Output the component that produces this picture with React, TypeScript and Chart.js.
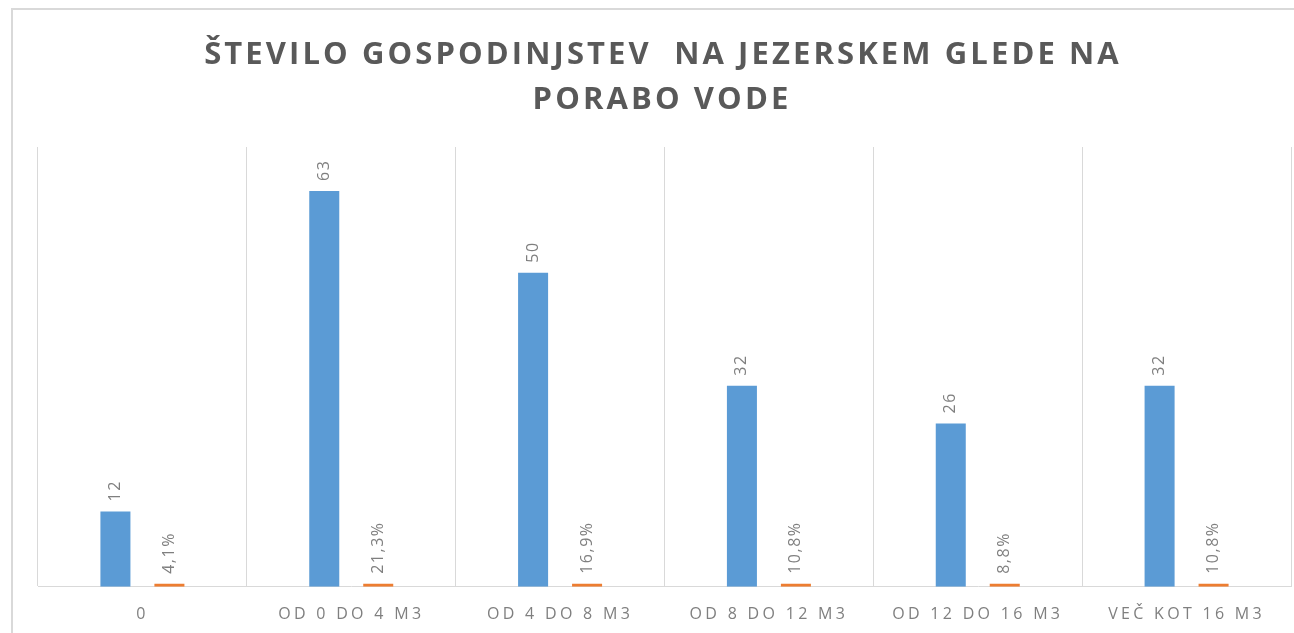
import React, { useEffect, useRef } from "react";
import { Chart, registerables } from "chart.js";

Chart.register(...registerables);

const categories = ["0", "OD 0 DO 4 M3", "OD 4 DO 8 M3", "OD 8 DO 12 M3", "OD 12 DO 16 M3", "VEČ KOT 16 M3"];
const households = [12, 63, 50, 32, 26, 32];
const shares = [0.041, 0.213, 0.169, 0.108, 0.088, 0.108];
const titleLines = ["ŠTEVILO GOSPODINJSTEV  NA JEZERSKEM GLEDE NA", "PORABO VODE"];

const fmtShare = (v: number) => (v * 100).toFixed(1).replace(".", ",") + "%";

const framePlugin = {
  id: "frame",
  beforeDraw(chart: any) {
    const ctx = chart.ctx;
    ctx.save();
    ctx.strokeStyle = "#d9d9d9";
    ctx.lineWidth = 2;
    ctx.beginPath();
    ctx.moveTo(12, 650);
    ctx.lineTo(12, 9);
    ctx.lineTo(1294, 9);
    ctx.stroke();
    ctx.restore();
    (ctx as any).letterSpacing = "3.3px";
  },
  beforeDatasetsDraw(chart: any) {
    (chart.ctx as any).letterSpacing = "0px";
  },
  afterDatasetsDraw(chart: any) {
    const ctx = chart.ctx;
    ctx.save();
    ctx.font = "16px 'Open Sans'";
    (ctx as any).letterSpacing = "1.5px";
    ctx.fillStyle = "#7f7f7f";
    ctx.textBaseline = "middle";
    ctx.textAlign = "left";
    chart.data.datasets.forEach((ds: any, di: number) => {
      const meta = chart.getDatasetMeta(di);
      meta.data.forEach((bar: any, i: number) => {
        const v = ds.data[i];
        const txt = di === 0 ? String(v) : fmtShare(v);
        const top = Math.min(bar.y, bar.base - 3);
        ctx.save();
        ctx.translate(bar.x, top - 10);
        ctx.rotate(-Math.PI / 2);
        ctx.fillText(txt, 0, 0);
        ctx.restore();
      });
    });
    ctx.restore();
  },
  afterDraw(chart: any) {
    const ctx = chart.ctx;
    ctx.save();
    ctx.font = "bold 31px 'Open Sans'";
    (ctx as any).letterSpacing = "3.1px";
    ctx.fillStyle = "#595959";
    ctx.textAlign = "center";
    ctx.textBaseline = "middle";
    ctx.fillText(titleLines[0], 663, 55);
    ctx.fillText(titleLines[1], 662, 100);
    ctx.restore();
  },
};

export default function App() {
  const ref = useRef<HTMLCanvasElement>(null);
  useEffect(() => {
    if (!ref.current) return;
    const chart = new Chart(ref.current, {
      type: "bar",
      data: {
        labels: categories,
        datasets: [
          {
            label: "Število gospodinjstev",
            data: households,
            backgroundColor: "#5b9bd5",
            barPercentage: 0.556,
            categoryPercentage: 0.517,
          },
          {
            label: "Delež",
            data: shares,
            backgroundColor: "#ed7d31",
            barPercentage: 0.556,
            categoryPercentage: 0.517,
            minBarLength: 3,
          },
        ],
      },
      options: {
        responsive: false,
        animation: false,
        layout: { padding: { top: 147, left: 38, right: 3, bottom: 8 } },
        plugins: { legend: { display: false }, title: { display: false }, tooltip: { enabled: false } },
        scales: {
          x: {
            grid: { display: true, color: "#d9d9d9", drawTicks: false, offset: true },
            border: { display: true, color: "#d9d9d9", width: 1 },
            ticks: {
              color: "#7f7f7f",
              font: { family: "'Open Sans'", size: 16 },
              padding: 18,
              maxRotation: 0,
              autoSkip: false,
            },
          },
          y: {
            display: false,
            min: 0,
            max: 70,
          },
        },
      },
      plugins: [framePlugin],
    });
    return () => chart.destroy();
  }, []);
  return (
    <div style={{ position: "fixed", left: 0, top: 0, width: 1294, height: 633, overflow: "hidden", background: "#fff" }}>
      <canvas ref={ref} width={1294} height={650} style={{ display: "block" }} />
    </div>
  );
}
